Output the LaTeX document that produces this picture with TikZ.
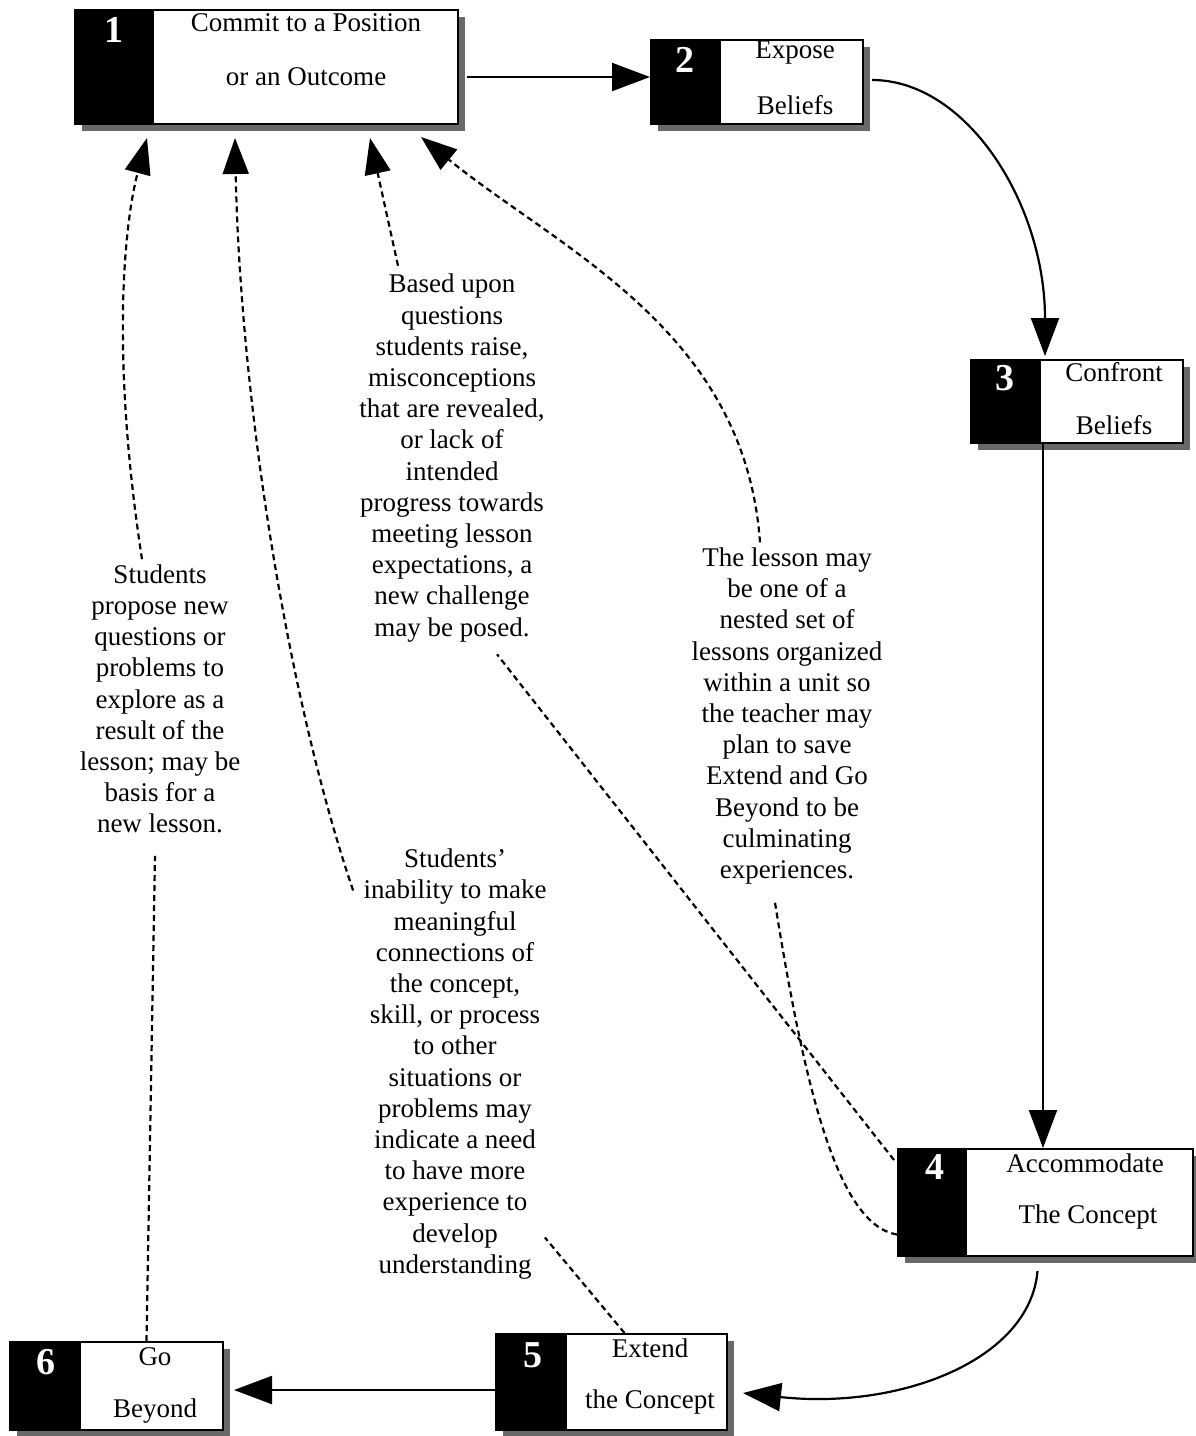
\documentclass[tikz,border=0pt]{standalone}
\usepackage{fontspec}
\setmainfont{Liberation Serif}
\usetikzlibrary{arrows.meta,calc}
\definecolor{shadowgray}{RGB}{105,105,105}
\tikzset{
 stepbox/.style={draw=black, line width=1pt, fill=white, inner sep=0pt},
 numlabel/.style={text=white, font=\fontsize{19}{19}\selectfont\bfseries, inner sep=0pt},
 boxlabel/.style={font=\fontsize{13.5}{15}\selectfont, inner sep=0pt},
 note/.style={font=\fontsize{13.5}{15.6}\selectfont, align=center, inner sep=0pt},
 flow/.style={line width=1.1pt, -{Triangle[length=19pt,width=14pt]}},
 feedback/.style={line width=1.1pt, dash pattern=on 3pt off 2pt, -{Triangle[length=18pt,width=13pt]}},
 feedline/.style={line width=1.1pt, dash pattern=on 3pt off 2pt},
}
\begin{document}
\begin{tikzpicture}[x=0.5pt,y=-0.5pt]
\useasboundingbox (0,0) rectangle (1195,1436);
\fill[white] (0,0) rectangle (1195,1436);

% box 1
\fill[shadowgray] (82,17) rectangle (465,131);
\node[stepbox, minimum width=191.5pt, minimum height=57pt] (b1) at (266.5,67) {};
\fill (b1.north west) rectangle ($(b1.south west)+(80,0)$);
\node[numlabel] (n1) at (114,30) {1};
\node[boxlabel] (t1a) at (306,23) {Commit to a Position};
\node[boxlabel] (t1b) at (306,77) {or an Outcome};

% box 2
\fill[shadowgray] (658,47) rectangle (870,131);
\node[stepbox, minimum width=106pt, minimum height=42pt] (b2) at (757,82) {};
\fill (b2.north west) rectangle ($(b2.south west)+(71,0)$);
\node[numlabel] (n2) at (685,60) {2};
\node[boxlabel] (t2a) at (795,53) {Expose};
\node[boxlabel] (t2b) at (795,105) {Beliefs};

% box 3
\fill[shadowgray] (978,367) rectangle (1190,450);
\node[stepbox, minimum width=106pt, minimum height=41.5pt] (b3) at (1077,401.5) {};
\fill (b3.north west) rectangle ($(b3.south west)+(71,0)$);
\node[numlabel] (n3) at (1005,378) {3};
\node[boxlabel] (t3a) at (1114,372) {Confront};
\node[boxlabel] (t3b) at (1114,425) {Beliefs};

% box 4
\fill[shadowgray] (905,1156) rectangle (1200,1263);
\node[stepbox, minimum width=147.5pt, minimum height=53.5pt] (b4) at (1045.5,1202.5) {};
\fill (b4.north west) rectangle ($(b4.south west)+(70,0)$);
\node[numlabel] (n4) at (935,1167) {4};
\node[boxlabel] (t4a) at (1085,1163) {Accommodate};
\node[boxlabel] (t4b) at (1088,1217) {The Concept};

% box 5
\fill[shadowgray] (503,1341) rectangle (734,1437);
\node[stepbox, minimum width=115.5pt, minimum height=48pt] (b5) at (611.5,1382) {};
\fill (b5.north west) rectangle ($(b5.south west)+(72,0)$);
\node[numlabel] (n5) at (533,1355) {5};
\node[boxlabel] (t5a) at (650,1348) {Extend};
\node[boxlabel] (t5b) at (650,1402) {the Concept};

% box 6
\fill[shadowgray] (17,1349) rectangle (230,1437);
\node[stepbox, minimum width=106.5pt, minimum height=44pt] (b6) at (116.5,1386) {};
\fill (b6.north west) rectangle ($(b6.south west)+(72,0)$);
\node[numlabel] (n6) at (46,1362) {6};
\node[boxlabel] (t6a) at (155,1357) {Go};
\node[boxlabel] (t6b) at (155,1411) {Beyond};

% notes
\node[note] (TA) at (160,699) {Students\\propose new\\questions or\\problems to\\explore as a\\result of the\\lesson; may be\\basis for a\\new lesson.};
\node[note] (TB) at (455,1064) {Students'\\inability to make\\meaningful\\connections of\\the concept,\\skill, or process\\to other\\situations or\\problems may\\indicate a need\\to have more\\experience to\\develop\\understanding};
\node[note] (TC) at (452,458) {Based upon\\questions\\students raise,\\misconceptions\\that are revealed,\\or lack of\\intended\\progress towards\\meeting lesson\\expectations, a\\new challenge\\may be posed.};
\node[note] (TD) at (787,716) {The lesson may\\be one of a\\nested set of\\lessons organized\\within a unit so\\the teacher may\\plan to save\\Extend and Go\\Beyond to be\\culminating\\experiences.};

% main flow
\draw[flow] ($(b1.east)+(8,10)$) -- ($(b2.west)+(0,-5)$);
\draw[flow] ($(b2.east)+(8,-2)$) .. controls (967,80) and (1045,204) .. ($(b3.north)+(-32,-3)$);
\draw[flow] ($(b3.south)+(-34,0)$) -- ($(b4.north)+(-2.5,0)$);
\draw[flow] ($(b4.south)+(-8,14)$) .. controls (1030,1360) and (900,1410) .. ($(b5.east)+(15,11)$);
\draw[flow] ($(b5.west)+(0,8)$) -- ($(b6.east)+(10,4)$);

% feedback loops
\draw[feedline] ($(b6.north)+(30,0)$) -- ($(TA.south)+(-5,22)$);
\draw[feedback] ($(TA.north)+(-18,-5)$) .. controls (110,350) and (125,220) .. ($(b1.south)+(-119.5,13)$);

\draw[feedline] ($(b5.north)+(13,0)$) -- ($(TB.south east)+(-2,-42)$);
\draw[feedback] ($(TB.north west)+(-10,42)$) .. controls (285,690) and (240,390) .. ($(b1.south)+(-31.5,13)$);

\draw[feedline] ($(b4.north west)+(-3,12)$) -- ($(TC.south)+(45,12)$);
\draw[feedback] ($(TC.north)+(-54,-8)$) -- ($(b1.south)+(103.5,13)$);

\draw[feedline] ($(b4.west)+(0,32)$) .. controls (838,1225) and (805,1090) .. ($(TD.south)+(-12,18)$);
\draw[feedback] ($(TD.north)+(-27,-5)$) .. controls (745,330) and (560,250) .. ($(b1.south east)+(-38,12)$);
\end{tikzpicture}
\end{document}
